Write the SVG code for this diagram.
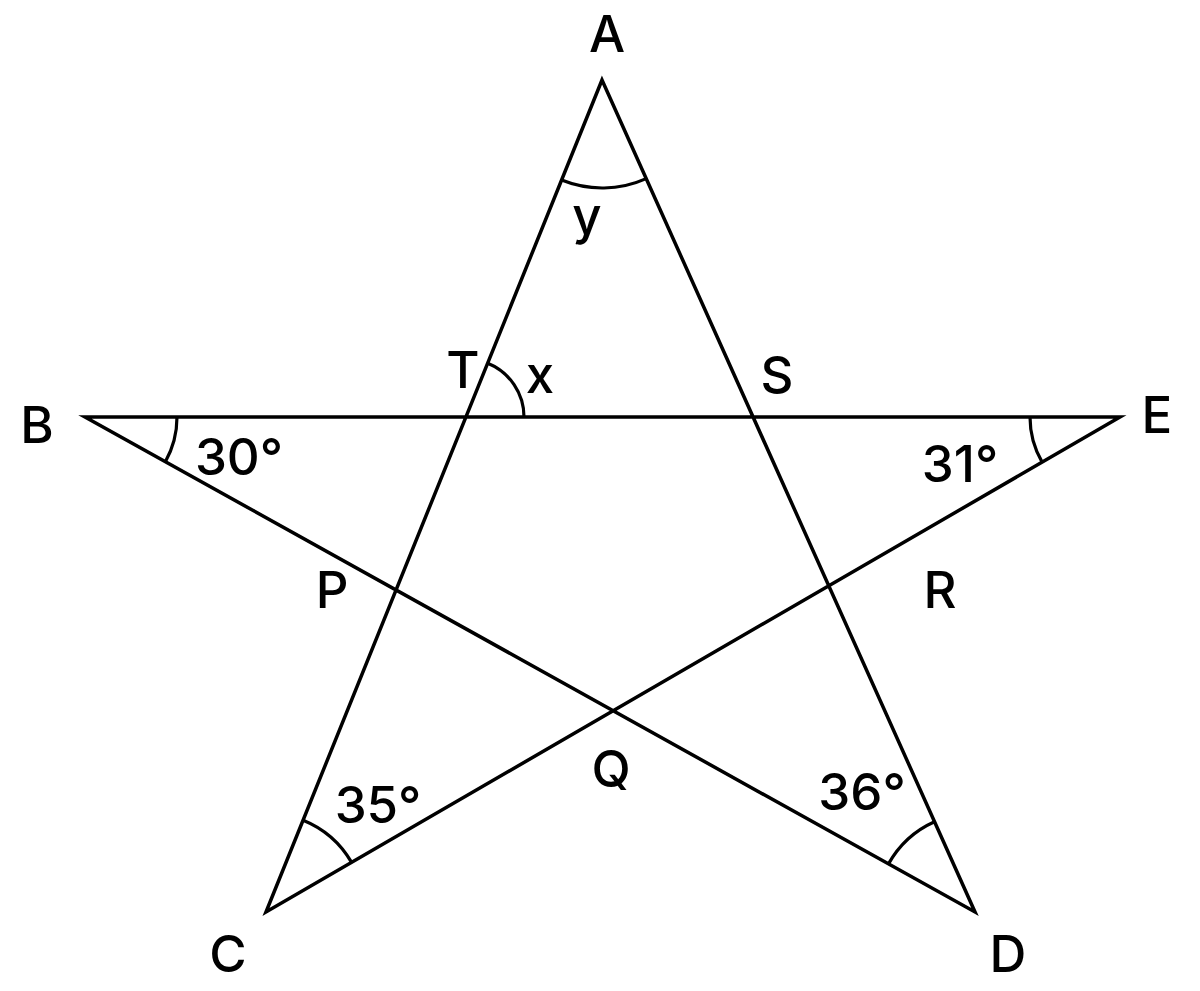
<svg xmlns="http://www.w3.org/2000/svg" width="1200" height="991" viewBox="0 0 1200 991">
<style>
.ln{fill:none;stroke:#000;stroke-width:3.5;stroke-linejoin:miter;stroke-miterlimit:10}
.arc{fill:none;stroke:#000;stroke-width:3.2}
text{font-family:Inter,"Liberation Sans",Arial,sans-serif;font-size:51px;font-weight:500;fill:#000;text-anchor:middle}
</style>
<rect width="1200" height="991" fill="#fff"/>
<g id="connectors">
<polygon class="ln" points="602,80 266,912 1120,417 85,417 975,912"/>
</g>
<g id="angles">
<path class="arc" d="M561.6,180.1 A108,108 0 0,0 646.2,178.6"/>
<path class="arc" d="M177,417 A92,92 0 0,1 165.4,461.7"/>
<path class="arc" d="M1030,417 A90,90 0 0,0 1042.1,462.1"/>
<path class="arc" d="M303.1,820.2 A99,99 0 0,1 351.6,862.4"/>
<path class="arc" d="M934.5,821.7 A99,99 0 0,0 888.5,863.9"/>
<path class="arc" d="M524,417 A58,58 0 0,0 487.7,363.2"/>
</g>
<g id="node-A"><text x="607" y="52">A</text></g>
<g id="node-B"><text x="37" y="443">B</text></g>
<g id="node-C"><text x="228" y="972">C</text></g>
<g id="node-D"><text x="1008" y="972">D</text></g>
<g id="node-E"><text x="1157" y="433">E</text></g>
<g id="node-P"><text x="332" y="608">P</text></g>
<g id="node-Q"><text x="611" y="787">Q</text></g>
<g id="node-R"><text x="940" y="608">R</text></g>
<g id="node-S"><text x="777" y="393">S</text></g>
<g id="node-T"><text x="463" y="388">T</text></g>
<g id="labels">
<text x="587" y="234">y</text>
<text x="540" y="393">x</text>
<text x="239" y="475">30°</text>
<text x="960" y="482">31°</text>
<text x="378" y="823">35°</text>
<text x="862" y="810">36°</text>
</g>
</svg>
